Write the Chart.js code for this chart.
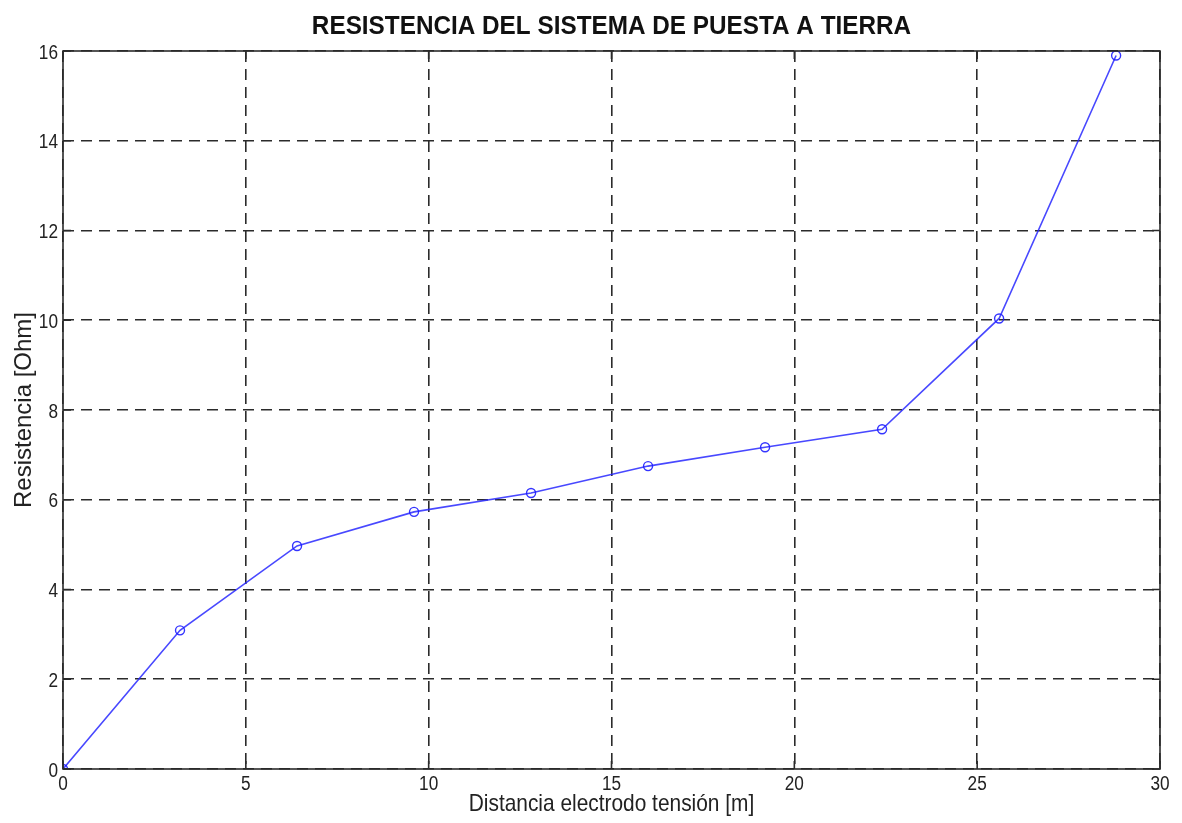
<!DOCTYPE html>
<html>
<head>
<meta charset="utf-8">
<title>Resistencia del sistema de puesta a tierra</title>
<script src="https://cdn.jsdelivr.net/npm/chart.js@4/dist/chart.umd.min.js"></script>
<style>
  html, body { margin: 0; padding: 0; background: #ffffff; }
  #wrap { width: 1182px; height: 823px; }
</style>
</head>
<body>
<div id="wrap"><canvas id="chart" width="1182" height="823"></canvas></div>
<script>
// Measured distance of the voltage electrode [m]
const distances = [0, 3.2, 6.4, 9.6, 12.8, 16.0, 19.2, 22.4, 25.6, 28.8];
// Measured resistance [Ohm]
const resistances = [0, 3.09, 4.97, 5.73, 6.15, 6.75, 7.17, 7.57, 10.04, 15.9];

const chartTitle = 'RESISTENCIA DEL SISTEMA DE PUESTA A TIERRA';
const xTitle = 'Distancia electrodo tensión [m]';
const yTitle = 'Resistencia [Ohm]';
const xRange = [0, 30];
const yRange = [0, 16];
const xStep = 5;
const yStep = 2;

const points = distances.map((d, i) => ({ x: d, y: resistances[i] }));

const FONT = '"Liberation Sans", Arial, sans-serif';
const GRID = '#2b2b2b';

// Text drawn with a slight horizontal squeeze (narrow sans look)
function squeezed(ctx, text, x, y, sx, align) {
  ctx.save();
  ctx.translate(x, y);
  ctx.scale(sx, 1);
  ctx.textAlign = align;
  ctx.fillText(text, 0, 0);
  ctx.restore();
}

// Frame, inward tick marks, tick labels, title and axis labels
const decorations = {
  id: 'decorations',
  afterDraw(chart) {
    const { ctx, chartArea: a, scales } = chart;
    ctx.save();
    ctx.strokeStyle = GRID;
    ctx.lineWidth = 1.6;
    ctx.setLineDash([]);
    ctx.strokeRect(a.left, a.top, a.right - a.left, a.bottom - a.top);
    const t = 8;
    ctx.beginPath();
    scales.x.ticks.forEach(tk => {
      const px = scales.x.getPixelForValue(tk.value);
      ctx.moveTo(px, a.bottom); ctx.lineTo(px, a.bottom - t);
      ctx.moveTo(px, a.top); ctx.lineTo(px, a.top + t);
    });
    scales.y.ticks.forEach(tk => {
      const py = scales.y.getPixelForValue(tk.value);
      ctx.moveTo(a.left, py); ctx.lineTo(a.left + t, py);
      ctx.moveTo(a.right, py); ctx.lineTo(a.right - t, py);
    });
    ctx.stroke();

    // tick labels
    ctx.fillStyle = '#222';
    ctx.textBaseline = 'alphabetic';
    ctx.font = '20px ' + FONT;
    scales.x.ticks.forEach(tk => {
      const px = scales.x.getPixelForValue(tk.value);
      squeezed(ctx, String(tk.value), px, a.bottom + 21, 0.86, 'center');
    });
    scales.y.ticks.forEach(tk => {
      const py = scales.y.getPixelForValue(tk.value);
      squeezed(ctx, String(tk.value), a.left - 5, py + 7.5, 0.86, 'right');
    });

    // title
    ctx.fillStyle = '#111';
    ctx.font = 'bold 26px ' + FONT;
    squeezed(ctx, chartTitle, (a.left + a.right) / 2, 34, 0.935, 'center');

    // axis titles
    ctx.fillStyle = '#222';
    ctx.font = '24px ' + FONT;
    squeezed(ctx, xTitle, (a.left + a.right) / 2, 811, 0.87, 'center');

    ctx.save();
    ctx.translate(31, (a.top + a.bottom) / 2);
    ctx.rotate(-Math.PI / 2);
    ctx.textAlign = 'center';
    ctx.fillText(yTitle, 0, 0);
    ctx.restore();
    ctx.restore();
  }
};

new Chart(document.getElementById('chart'), {
  type: 'line',
  data: {
    datasets: [{
      data: points,
      borderColor: 'rgba(40,40,255,0.85)',
      borderWidth: 1.6,
      pointStyle: 'circle',
      pointRadius: 4.5,
      pointBorderWidth: 1.4,
      pointBorderColor: 'rgba(30,30,255,0.9)',
      pointBackgroundColor: 'rgba(0,0,0,0)',
      fill: false,
      tension: 0
    }]
  },
  options: {
    responsive: false,
    animation: false,
    devicePixelRatio: 1,
    layout: { padding: { left: 0, right: 22, top: 51, bottom: 0 } },
    plugins: {
      legend: { display: false },
      tooltip: { enabled: false },
      title: { display: false }
    },
    scales: {
      x: {
        type: 'linear',
        min: xRange[0],
        max: xRange[1],
        afterFit(scale) { scale.height = 54; },
        ticks: { stepSize: xStep, display: false },
        grid: { color: GRID, lineWidth: 1.6, drawTicks: false },
        border: { display: false, dash: [11, 7] }
      },
      y: {
        type: 'linear',
        min: yRange[0],
        max: yRange[1],
        afterFit(scale) { scale.width = 63; },
        ticks: { stepSize: yStep, display: false },
        grid: { color: GRID, lineWidth: 1.6, drawTicks: false },
        border: { display: false, dash: [11, 7] }
      }
    }
  },
  plugins: [decorations]
});
</script>
</body>
</html>
